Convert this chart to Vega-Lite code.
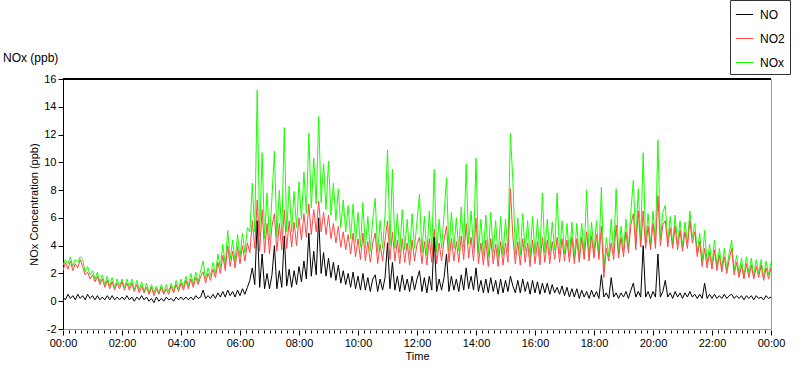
{
  "$schema": "https://vega.github.io/schema/vega-lite/v6.json",
  "width": 708,
  "height": 250,
  "autosize": {"type": "none"},
  "padding": {"left": 63, "top": 79, "right": 29, "bottom": 40},
  "background": "white",
  "title": {"text": "NOx (ppb)", "anchor": "start", "frame": "group", "dx": -60, "dy": 79, "offset": 14, "fontSize": 12, "fontWeight": "normal", "font": "Liberation Sans", "color": "#000000"},
  "config": {
    "font": "Liberation Sans",
    "view": {"stroke": "#999999", "strokeWidth": 1},
    "axis": {"labelFont": "Liberation Sans", "labelFontSize": 11, "labelColor": "#000000", "titleFont": "Liberation Sans", "titleFontSize": 11, "titleFontWeight": "normal", "titleColor": "#000000", "tickColor": "#000000", "domainColor": "#000000", "grid": false, "labelOverlap": false, "labelFlush": false, "labelBound": false}
  },
  "data": {"values": [
    {"t":0,"NO":0.3,"NO2":2.2,"NOx":2.6},{"t":5,"NO":0.1,"NO2":2.8,"NOx":3.0},{"t":10,"NO":0.5,"NO2":2.3,"NOx":2.7},{"t":15,"NO":0.2,"NO2":2.9,"NOx":3.2},{"t":20,"NO":0.4,"NO2":2.2,"NOx":2.5},{"t":25,"NO":0.1,"NO2":2.7,"NOx":3.0},{"t":30,"NO":0.5,"NO2":2.4,"NOx":2.8},{"t":35,"NO":0.2,"NO2":3.0,"NOx":3.2},{"t":40,"NO":0.4,"NO2":2.5,"NOx":3.0},{"t":45,"NO":0.1,"NO2":1.9,"NOx":2.1},{"t":50,"NO":0.5,"NO2":2.1,"NOx":2.5},{"t":55,"NO":0.2,"NO2":1.6,"NOx":1.9},
    {"t":60,"NO":0.4,"NO2":1.9,"NOx":2.2},{"t":65,"NO":0.1,"NO2":1.4,"NOx":1.6},{"t":70,"NO":0.4,"NO2":1.8,"NOx":2.1},{"t":75,"NO":0.1,"NO2":1.2,"NOx":1.4},{"t":80,"NO":0.3,"NO2":1.6,"NOx":1.9},{"t":85,"NO":0.1,"NO2":1.0,"NOx":1.2},{"t":90,"NO":0.4,"NO2":1.5,"NOx":1.8},{"t":95,"NO":0.1,"NO2":0.9,"NOx":1.1},{"t":100,"NO":0.4,"NO2":1.4,"NOx":1.7},{"t":105,"NO":0.1,"NO2":0.8,"NOx":1.0},{"t":110,"NO":0.3,"NO2":1.3,"NOx":1.6},{"t":115,"NO":0.1,"NO2":0.9,"NOx":1.1},
    {"t":120,"NO":0.3,"NO2":1.4,"NOx":1.6},{"t":125,"NO":0.1,"NO2":0.8,"NOx":1.0},{"t":130,"NO":0.4,"NO2":1.3,"NOx":1.6},{"t":135,"NO":0.1,"NO2":0.8,"NOx":1.0},{"t":140,"NO":0.3,"NO2":1.3,"NOx":1.6},{"t":145,"NO":0.0,"NO2":0.7,"NOx":0.8},{"t":150,"NO":0.3,"NO2":1.2,"NOx":1.5},{"t":155,"NO":0.1,"NO2":0.6,"NOx":0.8},{"t":160,"NO":0.4,"NO2":1.1,"NOx":1.4},{"t":165,"NO":0.1,"NO2":0.6,"NOx":0.7},{"t":170,"NO":0.3,"NO2":1.0,"NOx":1.3},{"t":175,"NO":0.0,"NO2":0.5,"NOx":0.6},
    {"t":180,"NO":0.2,"NO2":1.0,"NOx":1.2},{"t":185,"NO":-0.1,"NO2":0.4,"NOx":0.6},{"t":190,"NO":0.3,"NO2":0.9,"NOx":1.1},{"t":195,"NO":0.0,"NO2":0.5,"NOx":0.6},{"t":200,"NO":0.2,"NO2":1.0,"NOx":1.2},{"t":205,"NO":0.0,"NO2":0.5,"NOx":0.6},{"t":210,"NO":0.3,"NO2":0.9,"NOx":1.2},{"t":215,"NO":0.1,"NO2":0.5,"NOx":0.7},{"t":220,"NO":0.2,"NO2":1.1,"NOx":1.3},{"t":225,"NO":0.0,"NO2":0.6,"NOx":0.7},{"t":230,"NO":0.3,"NO2":1.2,"NOx":1.5},{"t":235,"NO":0.1,"NO2":0.7,"NOx":0.9},
    {"t":240,"NO":0.3,"NO2":1.3,"NOx":1.6},{"t":245,"NO":0.1,"NO2":0.8,"NOx":1.0},{"t":250,"NO":0.3,"NO2":1.5,"NOx":1.8},{"t":255,"NO":0.1,"NO2":0.9,"NOx":1.1},{"t":260,"NO":0.3,"NO2":1.6,"NOx":2.0},{"t":265,"NO":0.1,"NO2":1.0,"NOx":1.2},{"t":270,"NO":0.4,"NO2":1.7,"NOx":2.1},{"t":275,"NO":0.2,"NO2":1.2,"NOx":1.4},{"t":280,"NO":0.3,"NO2":1.8,"NOx":2.2},{"t":285,"NO":0.8,"NO2":2.1,"NOx":2.9},{"t":290,"NO":0.2,"NO2":1.3,"NOx":1.6},{"t":295,"NO":0.4,"NO2":2.0,"NOx":2.4},
    {"t":300,"NO":0.2,"NO2":1.5,"NOx":1.8},{"t":305,"NO":0.5,"NO2":2.3,"NOx":2.8},{"t":310,"NO":0.2,"NO2":1.7,"NOx":2.0},{"t":315,"NO":0.6,"NO2":2.8,"NOx":3.4},{"t":320,"NO":0.3,"NO2":2.0,"NOx":2.4},{"t":325,"NO":0.7,"NO2":3.3,"NOx":4.1},{"t":330,"NO":0.3,"NO2":2.2,"NOx":2.6},{"t":335,"NO":0.8,"NO2":4.0,"NOx":5.1},{"t":340,"NO":0.4,"NO2":2.5,"NOx":3.0},{"t":345,"NO":0.7,"NO2":3.6,"NOx":4.4},{"t":350,"NO":0.3,"NO2":2.4,"NOx":2.8},{"t":355,"NO":0.8,"NO2":3.9,"NOx":4.8},
    {"t":360,"NO":0.4,"NO2":2.7,"NOx":3.2},{"t":365,"NO":0.9,"NO2":4.0,"NOx":4.9},{"t":370,"NO":0.5,"NO2":2.9,"NOx":3.5},{"t":375,"NO":1.0,"NO2":4.2,"NOx":5.3},{"t":380,"NO":1.5,"NO2":3.5,"NOx":5.0},{"t":385,"NO":2.4,"NO2":5.8,"NOx":8.5},{"t":390,"NO":1.2,"NO2":3.8,"NOx":5.0},{"t":395,"NO":5.8,"NO2":7.3,"NOx":15.2},{"t":400,"NO":1.0,"NO2":3.6,"NOx":4.7},{"t":405,"NO":3.4,"NO2":6.6,"NOx":10.7},{"t":410,"NO":0.9,"NO2":3.5,"NOx":4.5},{"t":415,"NO":2.0,"NO2":5.6,"NOx":7.8},
    {"t":420,"NO":0.9,"NO2":3.4,"NOx":4.4},{"t":425,"NO":1.9,"NO2":5.4,"NOx":7.5},{"t":430,"NO":4.0,"NO2":6.3,"NOx":10.8},{"t":435,"NO":0.9,"NO2":3.6,"NOx":4.6},{"t":440,"NO":2.2,"NO2":5.6,"NOx":8.0},{"t":445,"NO":1.0,"NO2":3.7,"NOx":4.8},{"t":450,"NO":4.7,"NO2":6.6,"NOx":12.5},{"t":455,"NO":1.1,"NO2":3.8,"NOx":5.0},{"t":460,"NO":2.3,"NO2":5.8,"NOx":8.3},{"t":465,"NO":1.0,"NO2":3.9,"NOx":5.0},{"t":470,"NO":2.2,"NO2":5.7,"NOx":7.9},{"t":475,"NO":1.2,"NO2":4.0,"NOx":5.3},
    {"t":480,"NO":2.5,"NO2":6.0,"NOx":8.6},{"t":485,"NO":1.4,"NO2":4.4,"NOx":5.9},{"t":490,"NO":2.9,"NO2":6.3,"NOx":9.3},{"t":495,"NO":1.6,"NO2":4.6,"NOx":6.3},{"t":500,"NO":4.9,"NO2":7.0,"NOx":12.1},{"t":505,"NO":1.8,"NO2":4.8,"NOx":6.7},{"t":510,"NO":3.6,"NO2":6.6,"NOx":10.3},{"t":515,"NO":1.9,"NO2":5.0,"NOx":7.0},{"t":520,"NO":6.0,"NO2":7.2,"NOx":13.3},{"t":525,"NO":2.0,"NO2":5.0,"NOx":7.1},{"t":530,"NO":3.5,"NO2":6.4,"NOx":9.9},{"t":535,"NO":1.8,"NO2":4.8,"NOx":6.6},
    {"t":540,"NO":3.1,"NO2":6.2,"NOx":10.1},{"t":545,"NO":1.7,"NO2":4.5,"NOx":6.2},{"t":550,"NO":2.8,"NO2":5.6,"NOx":8.5},{"t":555,"NO":1.5,"NO2":4.2,"NOx":5.8},{"t":560,"NO":2.6,"NO2":5.4,"NOx":8.1},{"t":565,"NO":1.3,"NO2":3.9,"NOx":5.3},{"t":570,"NO":2.2,"NO2":5.0,"NOx":7.3},{"t":575,"NO":1.2,"NO2":3.7,"NOx":5.0},{"t":580,"NO":2.0,"NO2":4.8,"NOx":6.9},{"t":585,"NO":1.0,"NO2":3.4,"NOx":4.5},{"t":590,"NO":2.1,"NO2":4.9,"NOx":7.0},{"t":595,"NO":0.9,"NO2":3.2,"NOx":4.2},
    {"t":600,"NO":1.8,"NO2":4.5,"NOx":6.4},{"t":605,"NO":0.8,"NO2":3.0,"NOx":3.9},{"t":610,"NO":2.0,"NO2":4.9,"NOx":7.1},{"t":615,"NO":0.8,"NO2":2.9,"NOx":3.8},{"t":620,"NO":1.7,"NO2":4.3,"NOx":6.1},{"t":625,"NO":0.7,"NO2":2.8,"NOx":3.6},{"t":630,"NO":1.6,"NO2":4.2,"NOx":5.9},{"t":635,"NO":1.9,"NO2":4.9,"NOx":7.4},{"t":640,"NO":0.7,"NO2":2.7,"NOx":3.5},{"t":645,"NO":1.6,"NO2":4.1,"NOx":5.8},{"t":650,"NO":0.8,"NO2":2.9,"NOx":3.8},{"t":655,"NO":1.7,"NO2":4.4,"NOx":6.2},
    {"t":660,"NO":4.2,"NO2":5.8,"NOx":10.9},{"t":665,"NO":0.9,"NO2":3.0,"NOx":4.0},{"t":670,"NO":2.8,"NO2":5.0,"NOx":9.5},{"t":675,"NO":0.8,"NO2":2.9,"NOx":3.8},{"t":680,"NO":1.8,"NO2":4.4,"NOx":6.3},{"t":685,"NO":0.7,"NO2":2.7,"NOx":3.5},{"t":690,"NO":1.9,"NO2":4.5,"NOx":6.6},{"t":695,"NO":0.8,"NO2":2.8,"NOx":3.7},{"t":700,"NO":1.6,"NO2":4.2,"NOx":5.9},{"t":705,"NO":0.7,"NO2":2.6,"NOx":3.4},{"t":710,"NO":1.8,"NO2":4.4,"NOx":6.3},{"t":715,"NO":0.8,"NO2":2.9,"NOx":3.8},
    {"t":720,"NO":1.6,"NO2":4.1,"NOx":5.8},{"t":725,"NO":2.2,"NO2":4.6,"NOx":7.7},{"t":730,"NO":0.7,"NO2":2.7,"NOx":3.5},{"t":735,"NO":1.7,"NO2":4.3,"NOx":6.1},{"t":740,"NO":0.6,"NO2":2.6,"NOx":3.3},{"t":745,"NO":1.8,"NO2":4.5,"NOx":6.5},{"t":750,"NO":0.8,"NO2":2.8,"NOx":3.7},{"t":755,"NO":4.6,"NO2":5.2,"NOx":9.5},{"t":760,"NO":0.7,"NO2":2.7,"NOx":3.5},{"t":765,"NO":1.6,"NO2":4.2,"NOx":5.9},{"t":770,"NO":0.8,"NO2":2.9,"NOx":3.8},{"t":775,"NO":1.7,"NO2":4.4,"NOx":6.2},
    {"t":780,"NO":3.4,"NO2":5.4,"NOx":8.9},{"t":785,"NO":0.7,"NO2":2.8,"NOx":3.6},{"t":790,"NO":1.8,"NO2":4.5,"NOx":6.4},{"t":795,"NO":0.8,"NO2":2.9,"NOx":3.8},{"t":800,"NO":1.6,"NO2":4.3,"NOx":6.0},{"t":805,"NO":0.7,"NO2":2.8,"NOx":3.6},{"t":810,"NO":1.9,"NO2":4.7,"NOx":6.8},{"t":815,"NO":0.8,"NO2":3.0,"NOx":3.9},{"t":820,"NO":2.4,"NO2":5.6,"NOx":9.9},{"t":825,"NO":0.9,"NO2":3.1,"NOx":4.1},{"t":830,"NO":1.8,"NO2":4.6,"NOx":6.5},{"t":835,"NO":0.8,"NO2":2.9,"NOx":3.8},
    {"t":840,"NO":2.4,"NO2":6.0,"NOx":10.3},{"t":845,"NO":0.7,"NO2":2.7,"NOx":3.5},{"t":850,"NO":1.5,"NO2":4.2,"NOx":5.9},{"t":855,"NO":0.6,"NO2":2.6,"NOx":3.3},{"t":860,"NO":1.6,"NO2":4.4,"NOx":6.2},{"t":865,"NO":0.6,"NO2":2.5,"NOx":3.2},{"t":870,"NO":1.7,"NO2":4.5,"NOx":6.4},{"t":875,"NO":0.7,"NO2":2.7,"NOx":3.5},{"t":880,"NO":1.5,"NO2":4.1,"NOx":5.8},{"t":885,"NO":0.5,"NO2":2.5,"NOx":3.1},{"t":890,"NO":1.6,"NO2":4.3,"NOx":6.1},{"t":895,"NO":0.6,"NO2":2.6,"NOx":3.3},
    {"t":900,"NO":1.5,"NO2":4.2,"NOx":5.9},{"t":905,"NO":0.7,"NO2":2.8,"NOx":3.6},{"t":910,"NO":1.8,"NO2":8.1,"NOx":12.1},{"t":915,"NO":1.1,"NO2":4.6,"NOx":8.7},{"t":920,"NO":0.6,"NO2":2.7,"NOx":3.4},{"t":925,"NO":1.5,"NO2":4.3,"NOx":6.0},{"t":930,"NO":0.6,"NO2":2.6,"NOx":3.3},{"t":935,"NO":1.6,"NO2":4.5,"NOx":6.3},{"t":940,"NO":0.7,"NO2":2.8,"NOx":3.6},{"t":945,"NO":1.4,"NO2":4.2,"NOx":5.8},{"t":950,"NO":0.5,"NO2":2.5,"NOx":3.1},{"t":955,"NO":1.5,"NO2":4.4,"NOx":6.1},
    {"t":960,"NO":0.6,"NO2":2.7,"NOx":3.4},{"t":965,"NO":1.4,"NO2":4.3,"NOx":5.9},{"t":970,"NO":0.5,"NO2":2.6,"NOx":3.2},{"t":975,"NO":1.3,"NO2":4.6,"NOx":7.8},{"t":980,"NO":0.6,"NO2":2.8,"NOx":3.5},{"t":985,"NO":1.3,"NO2":4.4,"NOx":5.9},{"t":990,"NO":0.5,"NO2":2.7,"NOx":3.3},{"t":995,"NO":1.2,"NO2":4.3,"NOx":5.7},{"t":1000,"NO":0.6,"NO2":3.0,"NOx":3.7},{"t":1005,"NO":1.0,"NO2":4.6,"NOx":7.8},{"t":1010,"NO":0.5,"NO2":2.8,"NOx":3.4},{"t":1015,"NO":1.1,"NO2":4.5,"NOx":5.8},
    {"t":1020,"NO":0.4,"NO2":2.9,"NOx":3.4},{"t":1025,"NO":1.0,"NO2":4.4,"NOx":5.6},{"t":1030,"NO":0.3,"NO2":2.8,"NOx":3.2},{"t":1035,"NO":0.9,"NO2":4.6,"NOx":5.7},{"t":1040,"NO":0.3,"NO2":2.7,"NOx":3.1},{"t":1045,"NO":0.9,"NO2":4.5,"NOx":5.6},{"t":1050,"NO":0.2,"NO2":2.8,"NOx":3.1},{"t":1055,"NO":0.8,"NO2":4.6,"NOx":5.6},{"t":1060,"NO":0.3,"NO2":3.0,"NOx":3.4},{"t":1065,"NO":0.7,"NO2":5.0,"NOx":8.0},{"t":1070,"NO":0.2,"NO2":2.9,"NOx":3.2},{"t":1075,"NO":0.8,"NO2":4.7,"NOx":5.7},
    {"t":1080,"NO":0.3,"NO2":3.1,"NOx":3.5},{"t":1085,"NO":0.7,"NO2":4.8,"NOx":5.8},{"t":1090,"NO":0.2,"NO2":3.0,"NOx":3.3},{"t":1095,"NO":1.9,"NO2":5.4,"NOx":8.2},{"t":1100,"NO":0.3,"NO2":1.7,"NOx":2.1},{"t":1105,"NO":0.6,"NO2":3.8,"NOx":4.6},{"t":1110,"NO":0.2,"NO2":2.9,"NOx":3.2},{"t":1115,"NO":1.7,"NO2":4.2,"NOx":5.9},{"t":1120,"NO":0.3,"NO2":3.0,"NOx":3.4},{"t":1125,"NO":0.6,"NO2":5.5,"NOx":8.1},{"t":1130,"NO":0.2,"NO2":3.1,"NOx":3.4},{"t":1135,"NO":0.6,"NO2":4.6,"NOx":5.4},
    {"t":1140,"NO":0.3,"NO2":3.2,"NOx":3.6},{"t":1145,"NO":0.7,"NO2":5.0,"NOx":5.9},{"t":1150,"NO":0.2,"NO2":3.5,"NOx":3.8},{"t":1155,"NO":0.8,"NO2":5.5,"NOx":6.5},{"t":1160,"NO":1.3,"NO2":6.3,"NOx":8.7},{"t":1165,"NO":0.3,"NO2":3.7,"NOx":4.1},{"t":1170,"NO":0.7,"NO2":6.5,"NOx":8.1},{"t":1175,"NO":0.3,"NO2":3.9,"NOx":4.3},{"t":1180,"NO":4.0,"NO2":6.5,"NOx":10.7},{"t":1185,"NO":0.3,"NO2":3.8,"NOx":4.2},{"t":1190,"NO":0.7,"NO2":5.4,"NOx":6.3},{"t":1195,"NO":0.2,"NO2":3.7,"NOx":4.0},
    {"t":1200,"NO":0.7,"NO2":5.6,"NOx":6.5},{"t":1205,"NO":0.3,"NO2":3.8,"NOx":4.2},{"t":1210,"NO":3.4,"NO2":7.6,"NOx":11.6},{"t":1215,"NO":0.3,"NO2":4.0,"NOx":4.4},{"t":1220,"NO":0.7,"NO2":5.5,"NOx":6.4},{"t":1225,"NO":1.5,"NO2":5.8,"NOx":6.9},{"t":1230,"NO":0.3,"NO2":3.9,"NOx":4.3},{"t":1235,"NO":0.6,"NO2":5.3,"NOx":6.1},{"t":1240,"NO":0.2,"NO2":3.8,"NOx":4.1},{"t":1245,"NO":0.7,"NO2":5.4,"NOx":6.2},{"t":1250,"NO":0.3,"NO2":3.7,"NOx":4.1},{"t":1255,"NO":0.6,"NO2":5.1,"NOx":5.8},
    {"t":1260,"NO":0.2,"NO2":3.6,"NOx":3.9},{"t":1265,"NO":0.6,"NO2":5.0,"NOx":5.7},{"t":1270,"NO":0.3,"NO2":3.8,"NOx":4.2},{"t":1275,"NO":0.7,"NO2":5.8,"NOx":6.5},{"t":1280,"NO":0.3,"NO2":4.2,"NOx":4.6},{"t":1285,"NO":0.5,"NO2":5.0,"NOx":5.6},{"t":1290,"NO":0.2,"NO2":3.2,"NOx":3.5},{"t":1295,"NO":0.5,"NO2":4.3,"NOx":4.9},{"t":1300,"NO":0.2,"NO2":2.5,"NOx":2.8},{"t":1305,"NO":1.3,"NO2":3.8,"NOx":5.1},{"t":1310,"NO":0.2,"NO2":2.4,"NOx":2.7},{"t":1315,"NO":0.5,"NO2":3.5,"NOx":4.1},
    {"t":1320,"NO":0.2,"NO2":2.3,"NOx":2.6},{"t":1325,"NO":0.5,"NO2":3.7,"NOx":4.4},{"t":1330,"NO":0.2,"NO2":2.2,"NOx":2.5},{"t":1335,"NO":0.4,"NO2":3.3,"NOx":3.8},{"t":1340,"NO":0.2,"NO2":2.1,"NOx":2.4},{"t":1345,"NO":0.5,"NO2":3.2,"NOx":3.8},{"t":1350,"NO":0.2,"NO2":2.0,"NOx":2.3},{"t":1355,"NO":0.4,"NO2":3.0,"NOx":3.5},{"t":1360,"NO":0.5,"NO2":3.8,"NOx":4.4},{"t":1365,"NO":0.2,"NO2":1.9,"NOx":2.2},{"t":1370,"NO":0.4,"NO2":2.8,"NOx":3.3},{"t":1375,"NO":0.2,"NO2":1.7,"NOx":2.0},
    {"t":1380,"NO":0.4,"NO2":2.6,"NOx":3.1},{"t":1385,"NO":0.1,"NO2":1.6,"NOx":1.8},{"t":1390,"NO":0.4,"NO2":2.7,"NOx":3.2},{"t":1395,"NO":0.2,"NO2":1.7,"NOx":2.0},{"t":1400,"NO":0.4,"NO2":2.6,"NOx":3.1},{"t":1405,"NO":0.1,"NO2":1.6,"NOx":1.8},{"t":1410,"NO":0.4,"NO2":2.5,"NOx":3.0},{"t":1415,"NO":0.2,"NO2":1.7,"NOx":2.0},{"t":1420,"NO":0.3,"NO2":2.6,"NOx":3.0},{"t":1425,"NO":0.1,"NO2":1.5,"NOx":1.7},{"t":1430,"NO":0.4,"NO2":2.4,"NOx":2.9},{"t":1435,"NO":0.2,"NO2":1.6,"NOx":1.9},{"t":1440,"NO":0.3,"NO2":2.4,"NOx":2.8}
  ]},
  "encoding": {
    "x": {"field": "t", "type": "quantitative", "title": "Time",
      "scale": {"domain": [0, 1440], "nice": false, "zero": false},
      "axis": {"values": [0,12,24,36,48,60,72,84,96,108,120,132,144,156,168,180,192,204,216,228,240,252,264,276,288,300,312,324,336,348,360,372,384,396,408,420,432,444,456,468,480,492,504,516,528,540,552,564,576,588,600,612,624,636,648,660,672,684,696,708,720,732,744,756,768,780,792,804,816,828,840,852,864,876,888,900,912,924,936,948,960,972,984,996,1008,1020,1032,1044,1056,1068,1080,1092,1104,1116,1128,1140,1152,1164,1176,1188,1200,1212,1224,1236,1248,1260,1272,1284,1296,1308,1320,1332,1344,1356,1368,1380,1392,1404,1416,1428,1440],
        "labelExpr": "datum.value % 120 == 0 ? ((floor(datum.value/60) % 24) < 10 ? '0' : '') + (floor(datum.value/60) % 24) + ':00' : ''",
        "labelOverlap": false, "labelFlush": false, "labelBound": false,
        "tickSize": {"condition": {"test": "datum.value % 120 == 0", "value": 5}, "value": 3},
        "labelPadding": 2, "titlePadding": 2, "domain": false, "offset": 1}
    }
  },
  "layer": [
    {"mark": {"type": "line", "strokeWidth": 1, "clip": true},
     "encoding": {
       "y": {"field": "NOx", "type": "quantitative", "title": "NOx Concentration (ppb)",
         "scale": {"domain": [-2, 16], "nice": false, "zero": false},
         "axis": {"values": [-2,0,2,4,6,8,10,12,14,16], "labelExpr": "datum.value + ''", "tickSize": 5, "labelPadding": 2, "titlePadding": 4, "labelOverlap": false, "labelFlush": false, "labelBound": false}},
       "color": {"datum": "NOx", "type": "nominal",
         "scale": {"domain": ["NO", "NO2", "NOx"], "range": ["#000000", "#ff4646", "#19ff00"]},
         "legend": {"title": null, "orient": "none", "legendX": 667, "legendY": -79, "symbolType": "stroke", "symbolStrokeWidth": 1, "symbolSize": 300, "labelFontSize": 12, "labelFont": "Liberation Sans", "strokeColor": "#333333", "fillColor": "#ffffff", "padding": 5, "rowPadding": 8, "labelOffset": 6}}}},
    {"mark": {"type": "line", "strokeWidth": 1, "clip": true},
     "encoding": {"y": {"field": "NO2", "type": "quantitative", "title": "NOx Concentration (ppb)",
         "axis": {"values": [-2,0,2,4,6,8,10,12,14,16], "labelExpr": "datum.value + ''", "tickSize": 5, "labelPadding": 2, "titlePadding": 4, "labelOverlap": false, "labelFlush": false, "labelBound": false}},
       "color": {"datum": "NO2", "type": "nominal"}}},
    {"mark": {"type": "line", "strokeWidth": 1, "clip": true},
     "encoding": {"y": {"field": "NO", "type": "quantitative", "title": "NOx Concentration (ppb)",
         "axis": {"values": [-2,0,2,4,6,8,10,12,14,16], "labelExpr": "datum.value + ''", "tickSize": 5, "labelPadding": 2, "titlePadding": 4, "labelOverlap": false, "labelFlush": false, "labelBound": false}},
       "color": {"datum": "NO", "type": "nominal"}}},
    {"mark": {"type": "rule", "color": "#000000", "strokeWidth": 1},
     "encoding": {"x": {"datum": 0}, "x2": {"datum": 1440},
       "y": {"datum": 16, "type": "quantitative", "title": "NOx Concentration (ppb)",
         "axis": {"values": [-2,0,2,4,6,8,10,12,14,16], "labelExpr": "datum.value + ''", "tickSize": 5, "labelPadding": 2, "titlePadding": 4, "labelOverlap": false, "labelFlush": false, "labelBound": false}}}}
  ]
}
